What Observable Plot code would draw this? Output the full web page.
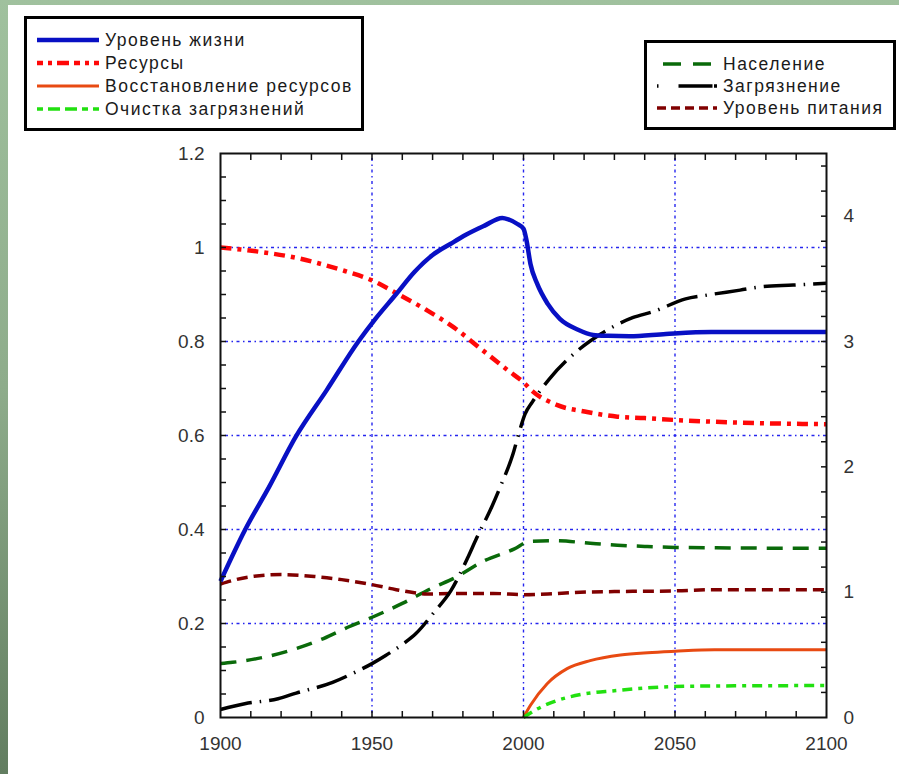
<!DOCTYPE html>
<html><head><meta charset="utf-8">
<script src="https://cdn.jsdelivr.net/npm/d3@7"></script>
<script src="https://cdn.jsdelivr.net/npm/@observablehq/plot@0.6"></script>
<style>
html,body{margin:0;padding:0;}
body{width:899px;height:774px;overflow:hidden;position:relative;
  background:linear-gradient(180deg,#a0c19e 0%,#8eac8b 50%,#627d60 100%);
  font-family:"Liberation Sans",Arial,sans-serif;}
#panel{position:absolute;left:8px;top:5px;width:891px;height:769px;background:#fff;}
.box{position:absolute;border:3px solid #000;box-sizing:border-box;background:#fff;}
.item{position:absolute;height:20px;white-space:nowrap;}
.item svg{position:absolute;top:5px;left:0;overflow:visible;}
.item span{position:absolute;top:0;line-height:20px;font-size:17.5px;letter-spacing:1.5px;color:#1a1a1a;}
#chart{position:absolute;left:0;top:140px;}
</style></head>
<body>
<div id="panel"></div>
<div id="legendLeft" class="box" style="left:24px;top:16px;width:340px;height:115px;"></div>
<div id="legendRight" class="box" style="left:644px;top:40px;width:252px;height:90px;"></div>
<div id="chart"></div>
<script>
// ---- axis definitions ----
const leftMax = 1.2;
const rightMax = 4.5;
const xTickLabels = [1900, 1950, 2000, 2050, 2100];
const leftTickLabels = [0, 0.2, 0.4, 0.6, 0.8, 1, 1.2];
const rightTickLabels = [0, 1, 2, 3, 4];
const gridYears = [1950, 2000, 2050];
const gridLeft = [0.2, 0.4, 0.6, 0.8, 1.0];

// ---- series (left axis) ----
const livingYears = [1900, 1908, 1916, 1925, 1935, 1945.5, 1951, 1958, 1964, 1970, 1976, 1981, 1987, 1993, 1995, 1998, 2000, 2001, 2002.3, 2004.5, 2008, 2012, 2018, 2023, 2028, 2035, 2047, 2062, 2100];
const livingValues = [0.29, 0.398, 0.49, 0.599, 0.696, 0.8, 0.847, 0.901, 0.948, 0.984, 1.008, 1.027, 1.046, 1.063, 1.06, 1.05, 1.04, 1.015, 0.965, 0.923, 0.88, 0.848, 0.825, 0.814, 0.812, 0.811, 0.816, 0.82, 0.82];

const resYears = [1900, 1909, 1915, 1925, 1932, 1941, 1950, 1958, 1968, 1977, 1986, 1995, 2000, 2003, 2011, 2021, 2031, 2040, 2050, 2068, 2100];
const resValues = [1.0, 0.994, 0.989, 0.978, 0.967, 0.95, 0.93, 0.903, 0.867, 0.83, 0.784, 0.738, 0.713, 0.694, 0.665, 0.65, 0.64, 0.637, 0.633, 0.628, 0.624];

const recoveryYears = [2000, 2002.3, 2007.8, 2014.4, 2022, 2032, 2041, 2050, 2063, 2100];
const recoveryValues = [0, 0.026, 0.072, 0.104, 0.121, 0.133, 0.138, 0.141, 0.144, 0.144];

const cleanupYears = [2000, 2004.5, 2011, 2019, 2030, 2041, 2050, 2063, 2100];
const cleanupValues = [0, 0.018, 0.036, 0.049, 0.057, 0.063, 0.066, 0.067, 0.068];

// ---- series (right axis) ----
const popYears = [1900, 1904, 1916, 1925, 1934, 1942, 1951, 1960, 1970, 1977, 1987, 1997, 2002, 2011, 2022, 2031, 2040, 2050, 2068, 2100];
const popValues = [0.43, 0.44, 0.49, 0.55, 0.63, 0.72, 0.81, 0.91, 1.035, 1.11, 1.25, 1.345, 1.405, 1.41, 1.39, 1.375, 1.365, 1.357, 1.353, 1.35];

const polYears = [1900, 1908, 1919, 1925, 1937, 1943.5, 1950, 1954.5, 1961, 1964.5, 1970.5, 1976, 1981.5, 1984.5, 1989.5, 1992.5, 1996.5, 1998.5, 2000.5, 2003, 2008.5, 2018, 2025.5, 2036, 2043, 2053.5, 2060.5, 2071.5, 2078, 2089, 2100];
const polValues = [0.064, 0.11, 0.15, 0.195, 0.28, 0.35, 0.43, 0.495, 0.6, 0.67, 0.84, 1.01, 1.27, 1.43, 1.68, 1.85, 2.1, 2.27, 2.42, 2.52, 2.7, 2.93, 3.06, 3.19, 3.24, 3.34, 3.37, 3.41, 3.435, 3.45, 3.465];

const foodYears = [1900, 1909, 1920, 1931, 1940, 1950, 1958, 1964, 1968, 1977, 1990, 2000, 2008, 2017, 2030, 2050, 2063, 2100];
const foodValues = [1.065, 1.12, 1.14, 1.125, 1.10, 1.06, 1.02, 0.995, 0.985, 0.99, 0.99, 0.98, 0.985, 0.998, 1.005, 1.01, 1.02, 1.02];

// ---- series meta & styles ----
const ratio = leftMax / rightMax;
const series = [
  {name: "Уровень жизни", years: livingYears, values: livingValues, axis: "left", color: "#0810c4", width: 4.5, dash: null, box: "L"},
  {name: "Ресурсы", years: resYears, values: resValues, axis: "left", color: "#ff0808", width: 4.5, dash: "11,6,4,6", box: "L"},
  {name: "Восстановление ресурсов", years: recoveryYears, values: recoveryValues, axis: "left", color: "#e84a12", width: 3, dash: null, box: "L"},
  {name: "Очистка загрязнений", years: cleanupYears, values: cleanupValues, axis: "left", color: "#22e010", width: 3.5, dash: "10,6,4,6", box: "L"},
  {name: "Население", years: popYears, values: popValues, axis: "right", color: "#0a6a0a", width: 3.5, dash: "16,10", box: "R"},
  {name: "Загрязнение", years: polYears, values: polValues, axis: "right", color: "#000000", width: 3.5, dash: "32,8,1.5,8", box: "R"},
  {name: "Уровень питания", years: foodYears, values: foodValues, axis: "right", color: "#800000", width: 3.5, dash: "11,6", box: "R"}
];
const drawOrder = [4, 6, 5, 2, 3, 1, 0];

const rows = s => s.years.map((y, i) => ({year: y, value: s.values[i]}));

const gridStyle = {stroke: "#2525ee", strokeWidth: 1.4, strokeDasharray: "1.5,3.5,3,3.5"};
const tickStyle = {fill: "none", stroke: "#111", strokeWidth: 1.5, tickSize: 6, label: null};

const lineMarks = drawOrder.map(k => {
  const s = series[k];
  return Plot.line(rows(s), {
    x: "year",
    y: s.axis === "left" ? "value" : d => d.value * ratio,
    stroke: s.color, strokeWidth: s.width,
    strokeDasharray: s.dash || undefined,
    strokeLinecap: "butt", strokeLinejoin: "round",
    curve: "monotone-x"
  });
});

const chart = Plot.plot({
  width: 899, height: 634,
  marginLeft: 220, marginRight: 73, marginTop: 13, marginBottom: 57,
  style: {background: "transparent", fontFamily: "'Liberation Sans', Arial, sans-serif", fontSize: "19px", color: "#333", overflow: "visible"},
  x: {domain: [1900, 2100]},
  y: {domain: [0, leftMax]},
  marks: [
    Plot.ruleX(gridYears, {x: d => d, ...gridStyle}),
    Plot.ruleY(gridLeft, {y: d => d, ...gridStyle}),
    ...lineMarks,
    Plot.frame({stroke: "#111", strokeWidth: 2}),
    // inward ticks (shifted into the frame)
    Plot.axisX({anchor: "bottom", ticks: d3.range(1910, 2100, 10), dy: -6, ...tickStyle}),
    Plot.axisX({anchor: "top", ticks: d3.range(1910, 2100, 10), dy: 6, ...tickStyle}),
    Plot.axisY({anchor: "left", ticks: d3.range(1, 24).map(i => i * 0.05), dx: 6, ...tickStyle}),
    Plot.axisY({anchor: "right", ticks: d3.range(1, 23).map(i => i * 0.2 * ratio), dx: -6, ...tickStyle}),
    // labels
    Plot.axisX({anchor: "bottom", ticks: xTickLabels, tickSize: 0, tickPadding: 19, label: null, stroke: "none", fill: "#333", tickFormat: d => String(d)}),
    Plot.axisY({anchor: "left", ticks: leftTickLabels, tickSize: 0, tickPadding: 16, label: null, stroke: "none", fill: "#333", tickFormat: d => String(d)}),
    Plot.axisY({anchor: "right", ticks: rightTickLabels.map(r => r * ratio), tickSize: 0, tickPadding: 17, label: null, stroke: "none", fill: "#333", tickFormat: d => String(Math.round(d / ratio))})
  ]
});
document.getElementById("chart").appendChild(chart);

// ---- legends ----
function addItem(boxId, s, sampleLeft, sampleW, textLeft, centerY) {
  const box = document.getElementById(boxId);
  const item = document.createElement("div");
  item.className = "item";
  item.style.left = "0px";
  item.style.top = (centerY - 10) + "px";
  item.style.width = "100%";
  const svg = d3.create("svg").attr("width", sampleW).attr("height", 10)
    .style("left", sampleLeft + "px");
  svg.append("line").attr("x1", 0).attr("x2", sampleW).attr("y1", 5).attr("y2", 5)
    .attr("stroke", s.color).attr("stroke-width", s.width)
    .attr("stroke-dasharray", s.dash ? s.legendDash || s.dash : null);
  item.appendChild(svg.node());
  const span = document.createElement("span");
  span.textContent = s.name;
  span.style.left = textLeft + "px";
  item.appendChild(span);
  box.appendChild(item);
}
series[1].legendDash = "6,5,4,5,12,5";
series[3].legendDash = "6,5,12,5,12,5";
series[4].legendDash = "0,6,18,6";
series[5].legendDash = "1.5,20,34";
series[6].legendDash = "9,5";
const leftRowsY = [21, 43.5, 66.5, 89.5];
const rightRowsY = [20.5, 42.5, 64.5];
series.filter(s => s.box === "L").forEach((s, i) => addItem("legendLeft", s, 10, 62, 78, leftRowsY[i]));
series.filter(s => s.box === "R").forEach((s, i) => addItem("legendRight", s, 10, 60, 76, rightRowsY[i]));
</script>
</body></html>
